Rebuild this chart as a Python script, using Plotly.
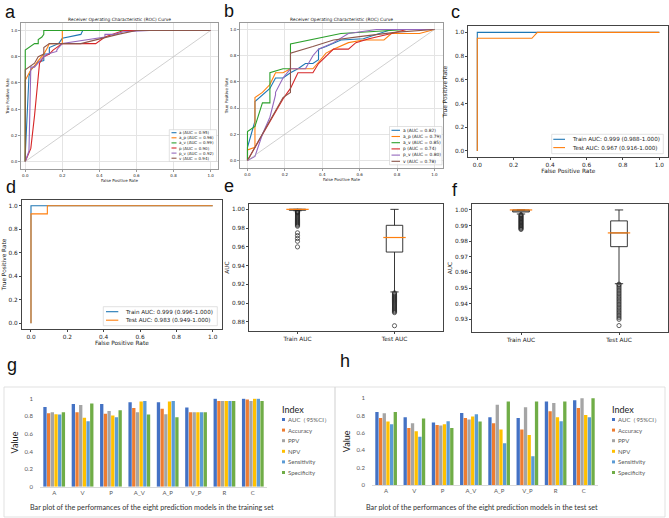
import plotly.graph_objects as go

W, H = 669, 518
MPL = "DejaVu Sans"
XL = "Lato"

# ROC model names / colours (panels a and b)
roc_names = ["a", "a_p", "a_v", "p", "p_v", "v"]
roc_colors = ["#1f77b4", "#ff7f0e", "#2ca02c", "#d62728", "#9467bd", "#8c564b"]
train_auc = [0.95, 0.96, 0.99, 0.90, 0.92, 0.94]
test_auc = [0.82, 0.79, 0.85, 0.74, 0.80, 0.78]

# panel a: training set ROC curves
tr_a_fpr = [0, 0, 0.02, 0.03, 0.07, 0.10, 0.10, 0.13, 0.13, 0.18, 0.20, 0.30, 0.31, 1.0]
tr_a_tpr = [0, 0.05, 0.65, 0.70, 0.76, 0.77, 0.82, 0.82, 0.87, 0.90, 0.94, 0.97, 1.0, 1.0]
tr_ap_fpr = [0, 0, 0.03, 0.05, 0.07, 0.10, 0.12, 0.13, 0.20, 0.20, 1.0]
tr_ap_tpr = [0, 0.62, 0.70, 0.73, 0.77, 0.82, 0.87, 0.90, 0.90, 1.0, 1.0]
tr_av_fpr = [0, 0, 0.05, 0.07, 0.07, 0.09, 0.10, 0.10, 1.0]
tr_av_tpr = [0, 0.85, 0.90, 0.90, 0.93, 0.95, 0.97, 1.0, 1.0]
tr_p_fpr = [0, 0.03, 0.05, 0.077, 0.10, 0.13, 0.15, 0.20, 0.38, 0.43, 0.53, 1.0]
tr_p_tpr = [0, 0.10, 0.35, 0.75, 0.80, 0.82, 0.85, 0.90, 0.90, 0.95, 1.0, 1.0]
tr_pv_fpr = [0, 0.02, 0.03, 0.05, 0.08, 0.10, 0.12, 0.17, 0.17, 0.18, 0.20, 0.30, 0.43, 0.43, 0.48, 0.53, 0.67, 1.0]
tr_pv_tpr = [0, 0.08, 0.72, 0.72, 0.77, 0.80, 0.82, 0.84, 0.85, 0.87, 0.90, 0.92, 0.95, 0.97, 0.97, 0.99, 1.0, 1.0]
tr_v_fpr = [0, 0, 0.05, 0.07, 0.10, 0.10, 0.13, 0.30, 0.50, 0.60, 1.0]
tr_v_tpr = [0, 0.70, 0.75, 0.80, 0.82, 0.87, 0.90, 0.90, 0.97, 1.0, 1.0]

# panel b: test set ROC curves
te_a_fpr = [0, 0, 0.02, 0.04, 0.04, 0.08, 0.12, 0.15, 0.19, 0.23, 0.27, 0.31, 0.35, 0.38, 0.38, 0.42, 0.50, 0.62, 0.77, 1.0]
te_a_tpr = [0, 0.10, 0.20, 0.30, 0.45, 0.50, 0.55, 0.63, 0.63, 0.67, 0.70, 0.74, 0.74, 0.77, 0.85, 0.87, 0.92, 0.93, 1.0, 1.0]
te_ap_fpr = [0, 0, 0.04, 0.04, 0.08, 0.12, 0.15, 0.19, 0.23, 0.35, 0.38, 0.42, 0.46, 0.54, 0.62, 0.73, 0.77, 0.92, 1.0]
te_ap_tpr = [0, 0.08, 0.10, 0.48, 0.52, 0.58, 0.67, 0.67, 0.70, 0.70, 0.75, 0.82, 0.85, 0.90, 0.92, 0.92, 0.97, 0.97, 1.0]
te_av_fpr = [0, 0, 0.04, 0.08, 0.12, 0.12, 0.19, 0.23, 0.23, 0.50, 0.85, 1.0]
te_av_tpr = [0, 0.22, 0.26, 0.44, 0.44, 0.67, 0.70, 0.70, 0.89, 0.97, 1.0, 1.0]
te_p_fpr = [0, 0.08, 0.12, 0.19, 0.23, 0.27, 0.35, 0.38, 0.46, 0.54, 0.58, 0.65, 0.77, 0.85, 1.0]
te_p_tpr = [0, 0.20, 0.30, 0.47, 0.55, 0.67, 0.67, 0.74, 0.85, 0.85, 0.90, 0.93, 0.97, 1.0, 1.0]
te_pv_fpr = [0, 0.04, 0.08, 0.12, 0.15, 0.15, 0.19, 0.23, 0.31, 0.35, 0.38, 0.46, 0.54, 0.69, 1.0]
te_pv_tpr = [0, 0.03, 0.20, 0.33, 0.50, 0.52, 0.63, 0.70, 0.70, 0.80, 0.85, 0.90, 0.97, 1.0, 1.0]
te_v_fpr = [0, 0.19, 0.23, 0.23, 0.35, 0.46, 0.62, 0.80, 1.0]
te_v_tpr = [0, 0.48, 0.52, 0.82, 0.87, 0.92, 0.95, 0.98, 1.0]

# panels c and d: final model, train vs test
c_train_fpr = [0, 0, 0.33, 1.0]
c_train_tpr = [0, 1.0, 1.0, 1.0]
c_test_fpr = [0, 0, 0.30, 0.33, 1.0]
c_test_tpr = [0, 0.95, 0.95, 1.0, 1.0]
c_labels = ["Train AUC: 0.999 (0.988-1.000)", "Test AUC: 0.967 (0.916-1.000)"]
d_train_fpr = [0, 0, 1.0]
d_train_tpr = [0, 1.0, 1.0]
d_test_fpr = [0, 0, 0.09, 0.09, 1.0]
d_test_tpr = [0, 0.93, 0.93, 1.0, 1.0]
d_labels = ["Train AUC: 0.999 (0.996-1.000)", "Test AUC: 0.983 (0.949-1.000)"]
diag = [0, 1]

# panels e and f: bootstrap AUC box plots
box_labels = ["Train AUC", "Test AUC"]
e_q1 = [0.999, 0.9545]
e_med = [1.0, 0.970]
e_q3 = [1.0, 0.983]
e_lo = [0.9985, 0.912]
e_hi = [1.0, 1.0]
e_train_out = [0.998, 0.9975, 0.997, 0.9965, 0.996, 0.995, 0.994, 0.993, 0.992, 0.991, 0.990, 0.989,
               0.988, 0.987, 0.986, 0.985, 0.984, 0.983, 0.982, 0.975, 0.972, 0.969, 0.966, 0.960]
e_test_out = [0.911, 0.910, 0.909, 0.908, 0.907, 0.906, 0.905, 0.904, 0.903, 0.902, 0.901, 0.900,
              0.899, 0.898, 0.897, 0.896, 0.895, 0.894, 0.893, 0.892, 0.891, 0.890, 0.876]
f_q1 = [0.9987, 0.9765]
f_med = [1.0, 0.9853]
f_q3 = [1.0, 0.993]
f_lo = [0.9974, 0.9528]
f_hi = [1.0, 1.0]
f_train_out = [0.9970, 0.9965, 0.9960, 0.9955, 0.9950, 0.9945, 0.9940, 0.9935, 0.9930, 0.9925,
               0.9920, 0.9915, 0.9910, 0.9905, 0.9900, 0.9895, 0.9890, 0.9885, 0.9880, 0.9875]
f_test_out = [0.9525, 0.952, 0.951, 0.950, 0.949, 0.948, 0.947, 0.946, 0.945, 0.944, 0.943, 0.942,
              0.941, 0.940, 0.939, 0.938, 0.937, 0.936, 0.935, 0.934, 0.933, 0.932, 0.931, 0.930, 0.926]

# panels g and h: performance bars
models = ["A", "V", "P", "A_V", "A_P", "V_P", "R", "C"]
metrics = ["AUC（95%CI）", "Accuracy", "PPV", "NPV", "Sensitivity", "Specificity"]
bar_colors = ["#4472C4", "#ED7D31", "#A5A5A5", "#FFC000", "#5B9BD5", "#70AD47"]
g_auc = [0.905, 0.94, 0.94, 0.96, 0.96, 0.90, 1.0, 1.0]
g_acc = [0.835, 0.845, 0.83, 0.895, 0.885, 0.845, 0.975, 0.99]
g_ppv = [0.845, 0.93, 0.86, 0.845, 0.825, 0.845, 0.975, 0.975]
g_npv = [0.825, 0.785, 0.81, 0.97, 0.97, 0.845, 0.975, 1.0]
g_sen = [0.82, 0.745, 0.79, 0.975, 0.975, 0.845, 0.975, 1.0]
g_spe = [0.845, 0.945, 0.87, 0.82, 0.79, 0.845, 0.975, 0.975]
h_auc = [0.84, 0.78, 0.72, 0.83, 0.78, 0.77, 0.96, 0.975]
h_acc = [0.77, 0.655, 0.69, 0.77, 0.71, 0.64, 0.85, 0.885]
h_ppv = [0.825, 0.71, 0.685, 0.755, 0.925, 0.895, 0.945, 1.0]
h_npv = [0.73, 0.62, 0.70, 0.79, 0.64, 0.575, 0.78, 0.805]
h_sen = [0.70, 0.555, 0.735, 0.815, 0.48, 0.33, 0.735, 0.78]
h_spe = [0.84, 0.765, 0.655, 0.73, 0.96, 0.96, 0.96, 1.0]


def X(p):
    return p / W


def Y(p):
    return 1 - p / H


fig = go.Figure()
layout = dict(width=W, height=H, margin=dict(l=0, r=0, t=0, b=0), template="none",
              paper_bgcolor="white", plot_bgcolor="white", showlegend=False,
              barmode="group", bargap=0.22, bargroupgap=0.1, font=dict(family=MPL))
shapes, annots = [], []


def sfx(n):
    return "" if n == 1 else str(n)


def note(text, x, y, fs, family=MPL, color="#222", xa="center", angle=0):
    annots.append(dict(text=text, x=X(x), y=Y(y), xref="paper", yref="paper", showarrow=False,
                       xanchor=xa, yanchor="middle", textangle=angle,
                       font=dict(family=family, size=fs, color=color)))


def axes(n, xpx, ypx, xr, yr, fs, lc, grid=False, xtitle=None, ytitle=None, tfs=None, xso=1, yso=1):
    tfs = tfs or fs
    common = dict(showline=True, mirror=True, linecolor=lc, linewidth=0.8, ticks="outside",
                  ticklen=2, tickwidth=0.6, tickcolor=lc, zeroline=False, showgrid=grid,
                  gridcolor="#e4e4e4", gridwidth=0.6,
                  tickfont=dict(family=MPL, size=fs, color="#222"))
    layout["xaxis" + sfx(n)] = dict(common, domain=[X(xpx[0]), X(xpx[1])], range=xr,
                                    anchor="y" + sfx(n),
                                    title=dict(text=xtitle, standoff=xso,
                                               font=dict(family=MPL, size=tfs, color="#222")))
    layout["yaxis" + sfx(n)] = dict(common, domain=[Y(ypx[1]), Y(ypx[0])], range=yr,
                                    anchor="x" + sfx(n),
                                    title=dict(text=ytitle, standoff=yso,
                                               font=dict(family=MPL, size=tfs, color="#222")))


roc_ticks = dict(tickvals=[0, 0.2, 0.4, 0.6, 0.8, 1.0], tickformat=".1f")

# ---- a, b
axes(1, (21, 218), (23, 169), [-0.023, 1.04], [-0.057, 1.057], 4, "#9a9a9a", True,
     "False Positive Rate", "True Positive Rate", 4)
axes(2, (240, 443), (23, 168), [-0.04, 1.046], [-0.058, 1.05], 4, "#9a9a9a", True,
     "False Positive Rate", "True Positive Rate", 4)
# ---- c, d
axes(3, (468.2, 668.4), (26.4, 156.9), [-0.05, 1.05], [-0.05, 1.05], 5.8, "#444",
     False, "False Positive Rate", "True Positive Rate", 5.8, yso=6)
axes(4, (21.9, 221.8), (199.8, 329.2), [-0.05, 1.05], [-0.05, 1.05], 5.8, "#444",
     False, "False Positive Rate", "True Positive Rate", 5.8)
for n in (1, 2, 3, 4):
    layout["xaxis" + sfx(n)].update(roc_ticks)
    layout["yaxis" + sfx(n)].update(roc_ticks)

# ---- e, f
axes(5, (249, 443), (204, 331), [-0.5, 1.5], [0.8704, 1.0057], 5.8, "#444",
     False, None, "AUC", 5.8)
axes(6, (472, 668), (204, 332), [-0.5, 1.5], [0.9219, 1.0038], 5.8, "#444",
     False, None, "AUC", 5.8)
layout["yaxis5"].update(tickvals=[0.88, 0.90, 0.92, 0.94, 0.96, 0.98, 1.00], tickformat=".2f")
layout["yaxis6"].update(tickvals=[0.93, 0.94, 0.95, 0.96, 0.97, 0.98, 0.99, 1.00], tickformat=".2f")
layout["xaxis5"].update(type="category")
layout["xaxis6"].update(type="category")

roc_a = [(tr_a_fpr, tr_a_tpr), (tr_ap_fpr, tr_ap_tpr), (tr_av_fpr, tr_av_tpr),
         (tr_p_fpr, tr_p_tpr), (tr_pv_fpr, tr_pv_tpr), (tr_v_fpr, tr_v_tpr)]
roc_b = [(te_a_fpr, te_a_tpr), (te_ap_fpr, te_ap_tpr), (te_av_fpr, te_av_tpr),
         (te_p_fpr, te_p_tpr), (te_pv_fpr, te_pv_tpr), (te_v_fpr, te_v_tpr)]

for n, curves, aucs in ((1, roc_a, train_auc), (2, roc_b, test_auc)):
    for (fx, ty), name, col, auc in zip(curves, roc_names, roc_colors, aucs):
        fig.add_trace(go.Scatter(x=fx, y=ty, mode="lines", name=f"{name} (AUC = {auc:.2f})",
                                 line=dict(color=col, width=1.1),
                                 xaxis="x" + sfx(n), yaxis="y" + sfx(n)))
    fig.add_trace(go.Scatter(x=diag, y=diag, mode="lines", line=dict(color="#b0b0b0", width=0.6),
                             xaxis="x" + sfx(n), yaxis="y" + sfx(n)))

for n, tr, te, labs in ((3, (c_train_fpr, c_train_tpr), (c_test_fpr, c_test_tpr), c_labels),
                        (4, (d_train_fpr, d_train_tpr), (d_test_fpr, d_test_tpr), d_labels)):
    for (fx, ty), col, lab in zip((tr, te), roc_colors[:2], labs):
        fig.add_trace(go.Scatter(x=fx, y=ty, mode="lines", name=lab, line=dict(color=col, width=1.1),
                                 xaxis="x" + sfx(n), yaxis="y" + sfx(n)))

# box plots
for n, q1, med, q3, lo, hi, outs in ((5, e_q1, e_med, e_q3, e_lo, e_hi, (e_train_out, e_test_out)),
                                     (6, f_q1, f_med, f_q3, f_lo, f_hi, (f_train_out, f_test_out))):
    xa, ya = "x" + sfx(n), "y" + sfx(n)
    fig.add_trace(go.Box(x=box_labels, q1=q1, median=med, q3=q3, lowerfence=lo, upperfence=hi,
                         width=0.17, whiskerwidth=0.5, line=dict(color="#222", width=0.9),
                         fillcolor="rgba(0,0,0,0)", xaxis=xa, yaxis=ya))
    for lab, vals in zip(box_labels, outs):
        fig.add_trace(go.Scatter(x=[lab] * len(vals), y=vals, mode="markers",
                                 marker=dict(symbol="circle-open", size=4.2, color="#222",
                                             line=dict(width=0.7)), xaxis=xa, yaxis=ya))
    fig.add_trace(go.Scatter(x=box_labels, y=med, mode="markers",
                             marker=dict(symbol="line-ew", size=16,
                                         line=dict(color="#ff7f0e", width=1.2)),
                             xaxis=xa, yaxis=ya))

# bar charts
for n, xpx, ypx, series in ((7, (40, 267), (398.3, 486.7), (g_auc, g_acc, g_ppv, g_npv, g_sen, g_spe)),
                            (8, (372, 598), (397.7, 485), (h_auc, h_acc, h_ppv, h_npv, h_sen, h_spe))):
    xa, ya = "x" + sfx(n), "y" + sfx(n)
    for vals, name, col in zip(series, metrics, bar_colors):
        fig.add_trace(go.Bar(x=models, y=vals, name=name, marker=dict(color=col, line=dict(width=0)),
                             xaxis=xa, yaxis=ya))
    layout["xaxis" + sfx(n)] = dict(domain=[X(xpx[0]), X(xpx[1])], anchor=ya, type="category",
                                    showline=True, linecolor="#d9d9d9", linewidth=0.8, ticks="",
                                    showgrid=False, zeroline=False,
                                    tickfont=dict(family=XL, size=6, color="#595959"))
    layout["yaxis" + sfx(n)] = dict(domain=[Y(ypx[1]), Y(ypx[0])], anchor=xa, range=[0, 1.005],
                                    tickvals=[0, 0.2, 0.4, 0.6, 0.8, 1.0],
                                    ticktext=["0", "0.2", "0.4", "0.6", "0.8", "1"],
                                    showline=False, showgrid=False, zeroline=False, ticks="",
                                    ticklabelstandoff=6,
                                    tickfont=dict(family=XL, size=6, color="#595959"),
                                    title=dict(text="Value", standoff=4,
                                               font=dict(family=XL, size=9, color="#222")))

# frames around g and h
for x0, x1 in ((4, 335), (335, 665)):
    shapes.append(dict(type="rect", xref="paper", yref="paper", x0=X(x0), x1=X(x1), y0=Y(517), y1=Y(387),
                       line=dict(color="#d9d9d9", width=0.8), layer="below"))

# plot titles for a and b
for cx in (119.5, 341.5):
    note("Receiver Operating Characteristic (ROC) Curve", cx, 19.5, 4.4)


# legends for the ROC panels (sample line + label)
def roc_legend(box, ys, lx, tx, labels, colors, fs):
    shapes.append(dict(type="rect", xref="paper", yref="paper", x0=X(box[0]), x1=X(box[1]),
                       y0=Y(box[3]), y1=Y(box[2]), line=dict(color="#cfcfcf", width=0.6),
                       fillcolor="rgba(255,255,255,0.85)", layer="above"))
    for yy, lab, col in zip(ys, labels, colors):
        shapes.append(dict(type="line", xref="paper", yref="paper", x0=X(lx[0]), x1=X(lx[1]),
                           y0=Y(yy), y1=Y(yy), line=dict(color=col, width=1.1), layer="above"))
        note(lab, tx, yy, fs, xa="left")


roc_legend((169.3, 216.5, 129.7, 161.5), [132.7 + 5.1 * i for i in range(6)], (171.5, 176.5), 177.3,
           [f"{nm} (AUC = {v:.2f})" for nm, v in zip(roc_names, train_auc)], roc_colors, 4.0)
roc_legend((389.5, 442, 126.5, 164.8), [130.3 + 6.2 * i for i in range(6)], (391.5, 400), 401.3,
           [f"{nm} (AUC = {v:.2f})" for nm, v in zip(roc_names, test_auc)], roc_colors, 4.4)
roc_legend((551.7, 663.3, 134.3, 153.7), [139.3, 147.6], (553.3, 565), 569.5, c_labels, roc_colors[:2], 5.6)
roc_legend((103.3, 217.3, 306.7, 325.7), [311.7, 320.2], (106, 118.3), 122.8, d_labels, roc_colors[:2], 5.6)

# legends for the bar panels
for lx in (280, 610):
    note("Index", lx, 409, 9, family=XL, xa="left")
    for i, (name, col) in enumerate(zip(metrics, bar_colors)):
        yy = 419.5 + 10.6 * i
        shapes.append(dict(type="rect", xref="paper", yref="paper", x0=X(lx + 2), x1=X(lx + 5),
                           y0=Y(yy + 1.5), y1=Y(yy - 1.5), line=dict(width=0), fillcolor=col))
        note(name, lx + 6, yy, 6, family=XL, color="#595959", xa="left")

# captions
note("Bar plot of the performances of the eight prediction models in the training set",
     152, 507, 7.2, family=XL, color="#333")
note("Bar plot of the performances of the eight prediction models in the test set",
     481.7, 507, 7.2, family=XL, color="#333")

# panel letters
for ch, cx, cy in (("a", 10, 11.5), ("b", 229, 11), ("c", 455, 12), ("d", 11, 187),
                   ("e", 229, 186), ("f", 455, 190), ("g", 12, 365), ("h", 345, 361)):
    note(ch, cx, cy, 18, family="Liberation Sans", color="#111")

layout["shapes"] = shapes
layout["annotations"] = annots
fig.update_layout(**layout)

fig.write_html("out.html", config={"displayModeBar": False},
               post_script="document.body.style.margin='0';")
